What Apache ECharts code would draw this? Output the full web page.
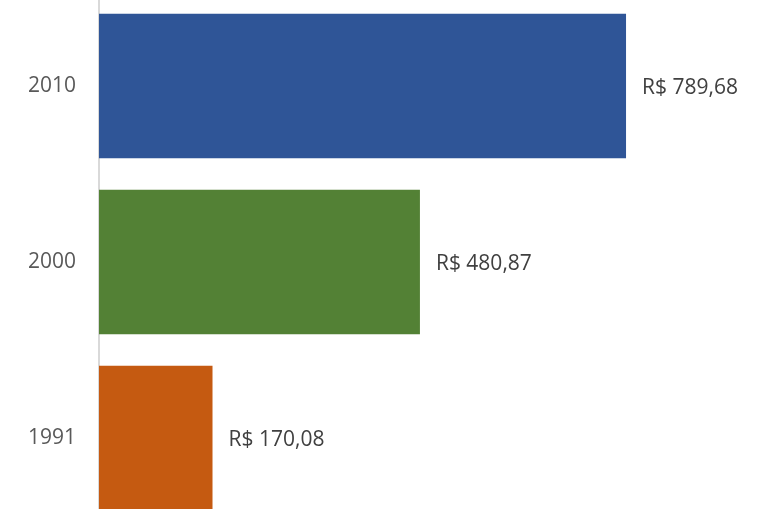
<!DOCTYPE html>
<html>
<head>
<meta charset="utf-8">
<script src="https://cdn.jsdelivr.net/npm/echarts@6/dist/echarts.min.js"></script>
<style>
  html, body { margin: 0; padding: 0; background: #ffffff; overflow: hidden; }
  #wrap { position: relative; width: 757px; height: 509px; overflow: hidden; }
  /* the plot runs slightly past the frame at the top and bottom */
  #chart { position: absolute; left: 0; top: -2px; width: 800px; height: 540px; }
</style>
</head>
<body>
<div id="wrap"><div id="chart"></div></div>
<script>
// Anos (de baixo para cima) e renda média correspondente
const years = ['1991', '2000', '2010'];
const incomes = [170.08, 480.87, 789.68];
const barColors = ['#C55A11', '#538135', '#2F5597'];

const fmtBRL = v => 'R$ ' + v.toFixed(2).replace('.', ',');

const chart = echarts.init(document.getElementById('chart'), null, { renderer: 'canvas' });

chart.setOption({
  animation: false,
  backgroundColor: '#ffffff',
  grid: { left: 99, top: 0, width: 667.4, height: 528, containLabel: false },
  xAxis: {
    type: 'value',
    min: 0,
    max: 1000,
    show: false
  },
  yAxis: {
    type: 'category',
    data: years,
    axisLine: { show: true, lineStyle: { color: '#d9d9d9', width: 2 } },
    axisTick: { show: false },
    axisLabel: {
      color: '#595959',
      fontFamily: 'Open Sans',
      fontSize: 21,
      margin: 23,
      padding: [4, 0, 0, 0]
    }
  },
  series: [{
    type: 'bar',
    data: incomes.map((v, i) => ({ value: v, itemStyle: { color: barColors[i] } })),
    barCategoryGap: '18%',
    label: {
      show: true,
      position: 'right',
      distance: 16,
      offset: [0, 2],
      color: '#404040',
      fontFamily: 'Open Sans',
      fontSize: 21,
      formatter: p => fmtBRL(p.value)
    }
  }]
});
</script>
</body>
</html>
